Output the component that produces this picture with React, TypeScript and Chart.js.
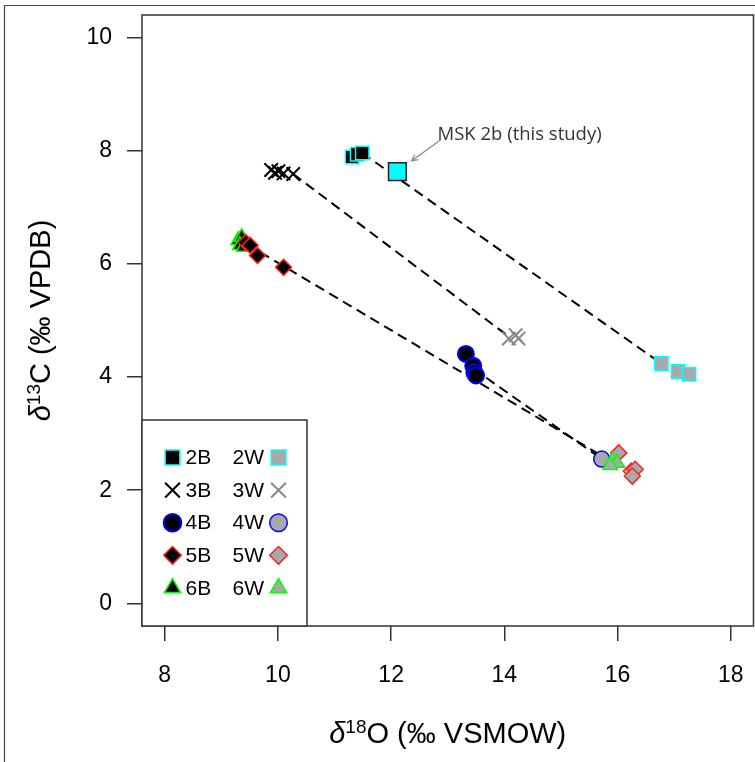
import React, { useEffect, useRef } from 'react';
import { Chart, registerables } from 'chart.js';

Chart.register(...registerables);

// ---- axis ticks ----
const X_TICKS = [8, 10, 12, 14, 16, 18];
const Y_TICKS = [0, 2, 4, 6, 8, 10];
const X_MIN = 7.6, X_MAX = 18.4, Y_MIN = -0.4, Y_MAX = 10.4;

// ---- data (δ18O, δ13C) ----
const X_2B = [11.31, 11.40, 11.49];
const Y_2B = [7.89, 7.94, 7.96];
const X_MSK = [12.11];
const Y_MSK = [7.63];
const X_2W = [16.77, 17.07, 17.26];
const Y_2W = [4.24, 4.10, 4.05];

const X_3B = [9.88, 9.95, 10.01, 10.10, 10.27];
const Y_3B = [7.66, 7.61, 7.64, 7.60, 7.59];
const X_3W = [14.08, 14.20, 14.25];
const Y_3W = [4.68, 4.74, 4.68];

const X_4B = [13.32, 13.45, 13.47, 13.50];
const Y_4B = [4.41, 4.20, 4.08, 4.03];
const X_4W = [15.72];
const Y_4W = [2.55];

const X_5B = [9.43, 9.51, 9.64, 10.10];
const Y_5B = [6.38, 6.33, 6.15, 5.94];
const X_5W = [16.02, 16.24, 16.31, 16.26];
const Y_5W = [2.66, 2.34, 2.37, 2.25];

const X_6B = [9.30, 9.36, 9.33, 9.40];
const Y_6B = [6.42, 6.47, 6.33, 6.30];
const X_6W = [15.91, 15.99, 15.87];
const Y_6W = [2.52, 2.48, 2.44];

// ---- dashed mixing lines (endpoints) ----
const LINE_2_X = [11.49, 16.77];
const LINE_2_Y = [7.96, 4.24];
const LINE_3_X = [10.27, 14.10];
const LINE_3_Y = [7.59, 4.70];
const LINE_4_X = [13.45, 15.72];
const LINE_4_Y = [4.15, 2.55];
const LINE_56_X = [9.45, 15.95];
const LINE_56_Y = [6.35, 2.47];

// ---- legend ----
const LEGEND_B = ['2B', '3B', '4B', '5B', '6B'];
const LEGEND_W = ['2W', '3W', '4W', '5W', '6W'];

// ---- annotation ----
const NOTE_TEXT = 'MSK 2b (this study)';
const NOTE_POS = [12.82, 8.29];
const ARROW_FROM = [12.87, 8.19];
const ARROW_TO = [12.36, 7.82];

const pts = (xs: number[], ys: number[]) => xs.map((x, i) => ({ x, y: ys[i] }));

const GREY = '#a9a9a9';
const CYAN = '#00ffff';
const BLUE = '#0000ff';
const RED = '#ff2020';
const GREEN = '#00ff00';

type MStyle = { shape: string; r: number; fill: string; stroke: string; lw: number };
const STYLE_B: MStyle[] = [
  { shape: 'rect', r: 9.5, fill: '#000', stroke: CYAN, lw: 1.5 },
  { shape: 'crossRot', r: 9.5, fill: '#000', stroke: '#000', lw: 2 },
  { shape: 'circle', r: 8, fill: '#000', stroke: BLUE, lw: 2 },
  { shape: 'rectRot', r: 8, fill: '#000', stroke: RED, lw: 1.5 },
  { shape: 'triangle', r: 8.5, fill: '#000', stroke: GREEN, lw: 1.5 },
];
const STYLE_W: MStyle[] = [
  { shape: 'rect', r: 9.5, fill: GREY, stroke: CYAN, lw: 1.5 },
  { shape: 'crossRot', r: 9.5, fill: GREY, stroke: '#888', lw: 2 },
  { shape: 'circle', r: 8, fill: GREY, stroke: BLUE, lw: 1.5 },
  { shape: 'rectRot', r: 8, fill: GREY, stroke: RED, lw: 1.5 },
  { shape: 'triangle', r: 8.5, fill: GREY, stroke: GREEN, lw: 1.5 },
];

function drawMarker(ctx: CanvasRenderingContext2D, s: MStyle, x: number, y: number, k = 1) {
  ctx.save();
  ctx.fillStyle = s.fill;
  ctx.strokeStyle = s.stroke;
  ctx.lineWidth = s.lw;
  ctx.beginPath();
  const r = s.r * k;
  if (s.shape === 'rect') {
    const h = r * Math.SQRT1_2;
    ctx.rect(x - h, y - h, 2 * h, 2 * h);
    ctx.fill();
    ctx.stroke();
  } else if (s.shape === 'circle') {
    ctx.arc(x, y, r, 0, Math.PI * 2);
    ctx.fill();
    ctx.stroke();
  } else if (s.shape === 'rectRot') {
    ctx.moveTo(x, y - r);
    ctx.lineTo(x + r, y);
    ctx.lineTo(x, y + r);
    ctx.lineTo(x - r, y);
    ctx.closePath();
    ctx.fill();
    ctx.stroke();
  } else if (s.shape === 'triangle') {
    const w = r * Math.sin(Math.PI / 3);
    ctx.moveTo(x, y - r);
    ctx.lineTo(x + w, y + r / 2);
    ctx.lineTo(x - w, y + r / 2);
    ctx.closePath();
    ctx.fill();
    ctx.stroke();
  } else if (s.shape === 'crossRot') {
    const d = r * Math.SQRT1_2;
    ctx.moveTo(x - d, y - d);
    ctx.lineTo(x + d, y + d);
    ctx.moveTo(x + d, y - d);
    ctx.lineTo(x - d, y + d);
    ctx.stroke();
  }
  ctx.restore();
}

type Part = { t: string; sup?: boolean; italic?: boolean };
function drawRich(ctx: CanvasRenderingContext2D, parts: Part[], cx: number, cy: number, size: number, family: string) {
  const fontFor = (p: Part) =>
    `${p.italic ? 'italic ' : ''}${p.sup ? Math.round(size * 0.66) : size}px ${family}`;
  let total = 0;
  const widths = parts.map((p) => {
    ctx.font = fontFor(p);
    const w = ctx.measureText(p.t).width;
    total += w;
    return w;
  });
  let x = cx - total / 2;
  ctx.textBaseline = 'alphabetic';
  ctx.textAlign = 'left';
  parts.forEach((p, i) => {
    ctx.font = fontFor(p);
    const base = cy + size * 0.36;
    ctx.fillText(p.t, x, p.sup ? base - size * 0.36 : base);
    x += widths[i];
  });
}

const decorPlugin = {
  id: 'decor',
  afterDraw(chart: any) {
    const ctx: CanvasRenderingContext2D = chart.ctx;
    const { left, right, top, bottom } = chart.chartArea;
    const xs = chart.scales.x;
    const ys = chart.scales.y;
    ctx.save();
    // outer frame
    ctx.strokeStyle = '#444';
    ctx.lineWidth = 1.2;
    ctx.beginPath();
    ctx.moveTo(4.5, 770);
    ctx.lineTo(4.5, 5.5);
    ctx.lineTo(760, 5.5);
    ctx.stroke();
    // plot box
    ctx.strokeStyle = '#333';
    ctx.lineWidth = 1.5;
    ctx.strokeRect(left, top, right - left, bottom - top);

    // legend
    const lx0 = left, ly0 = 420, lx1 = 307, ly1 = bottom;
    ctx.fillStyle = '#fff';
    ctx.fillRect(lx0, ly0, lx1 - lx0, ly1 - ly0);
    ctx.strokeRect(lx0, ly0, lx1 - lx0, ly1 - ly0);
    ctx.font = '21px "Liberation Sans", Arial, sans-serif';
    ctx.textBaseline = 'middle';
    ctx.textAlign = 'left';
    LEGEND_B.forEach((lab, i) => {
      const yy = 457.5 + i * 32.6;
      drawMarker(ctx, STYLE_B[i], 172.5, yy, 1.1);
      ctx.fillStyle = '#000';
      ctx.fillText(lab, 185.5, yy + 1);
      ctx.fillText(LEGEND_W[i], 232.5, yy + 1);
      drawMarker(ctx, STYLE_W[i], 278.5, yy, 1.1);
    });

    // annotation
    ctx.fillStyle = '#333';
    ctx.font = '18.5px "Open Sans", "Noto Sans", sans-serif';
    ctx.textBaseline = 'middle';
    ctx.textAlign = 'left';
    ctx.fillText(NOTE_TEXT, xs.getPixelForValue(NOTE_POS[0]), ys.getPixelForValue(NOTE_POS[1]));
    const ax0 = xs.getPixelForValue(ARROW_FROM[0]), ay0 = ys.getPixelForValue(ARROW_FROM[1]);
    const ax1 = xs.getPixelForValue(ARROW_TO[0]), ay1 = ys.getPixelForValue(ARROW_TO[1]);
    ctx.strokeStyle = '#8a8a8a';
    ctx.lineWidth = 1.3;
    ctx.beginPath();
    ctx.moveTo(ax0, ay0);
    ctx.lineTo(ax1, ay1);
    const ang = Math.atan2(ay1 - ay0, ax1 - ax0);
    const hl = 7;
    ctx.moveTo(ax1 - hl * Math.cos(ang - 0.45), ay1 - hl * Math.sin(ang - 0.45));
    ctx.lineTo(ax1, ay1);
    ctx.lineTo(ax1 - hl * Math.cos(ang + 0.45), ay1 - hl * Math.sin(ang + 0.45));
    ctx.stroke();

    // axis titles
    ctx.fillStyle = '#000';
    const fam = '"Liberation Sans", Arial, sans-serif';
    drawRich(ctx, [{ t: 'δ', italic: true }, { t: '18', sup: true }, { t: 'O (‰ VSMOW)' }], (left + right) / 2, 733, 29, fam);
    ctx.save();
    ctx.translate(40, (top + bottom) / 2);
    ctx.rotate(-Math.PI / 2);
    drawRich(ctx, [{ t: 'δ', italic: true }, { t: '13', sup: true }, { t: 'C (‰ VPDB)' }], 0, 0, 29, fam);
    ctx.restore();
    ctx.restore();
  },
};

const pointDs = (label: string, data: any[], s: MStyle) => ({
  label,
  data,
  showLine: false,
  pointStyle: s.shape,
  pointRadius: s.r,
  pointBackgroundColor: s.fill,
  pointBorderColor: s.stroke,
  pointBorderWidth: s.lw,
  order: 1,
});

const lineDs = (label: string, data: any[]) => ({
  label,
  data,
  showLine: true,
  borderColor: '#000',
  borderWidth: 2,
  borderDash: [10, 6],
  pointRadius: 0,
  fill: false,
  order: 5,
});

export default function App() {
  const ref = useRef<HTMLCanvasElement>(null);
  useEffect(() => {
    const tickFont = { family: '"Liberation Sans", Arial, sans-serif', size: 23 };
    const grid = { drawOnChartArea: false, drawTicks: true, tickLength: 15, color: '#333', lineWidth: 1.5 };
    const chart = new Chart(ref.current!, {
      type: 'scatter',
      data: {
        datasets: [
          pointDs('MSK', pts(X_MSK, Y_MSK), { shape: 'rect', r: 12.5, fill: CYAN, stroke: '#222', lw: 1.5 }),
          pointDs('2B', pts(X_2B, Y_2B), STYLE_B[0]),
          pointDs('2W', pts(X_2W, Y_2W), STYLE_W[0]),
          pointDs('3B', pts(X_3B, Y_3B), STYLE_B[1]),
          pointDs('3W', pts(X_3W, Y_3W), STYLE_W[1]),
          pointDs('6W', pts(X_6W, Y_6W), STYLE_W[4]),
          pointDs('4W', pts(X_4W, Y_4W), STYLE_W[2]),
          pointDs('5W', pts(X_5W, Y_5W), STYLE_W[3]),
          pointDs('4B', pts(X_4B, Y_4B), STYLE_B[2]),
          pointDs('5B', pts(X_5B, Y_5B), STYLE_B[3]),
          pointDs('6B', pts(X_6B, Y_6B), STYLE_B[4]),
          lineDs('L2', pts(LINE_2_X, LINE_2_Y)),
          lineDs('L3', pts(LINE_3_X, LINE_3_Y)),
          lineDs('L4', pts(LINE_4_X, LINE_4_Y)),
          lineDs('L56', pts(LINE_56_X, LINE_56_Y)),
        ] as any,
      },
      options: {
        responsive: false,
        animation: false,
        layout: { autoPadding: false, padding: { top: 15, right: 1.5, left: 0, bottom: 0 } },
        plugins: { legend: { display: false }, tooltip: { enabled: false } },
        scales: {
          x: {
            type: 'linear',
            min: X_MIN,
            max: X_MAX,
            afterBuildTicks: (s: any) => { s.ticks = X_TICKS.map((v) => ({ value: v })); },
            afterFit: (s: any) => { s.height = 136; s.paddingLeft = 0; s.paddingRight = 0; s.paddingTop = 0; s.paddingBottom = 0; },
            grid,
            border: { display: false },
            ticks: { font: tickFont, color: '#000', padding: 21, maxRotation: 0, autoSkip: false },
          },
          y: {
            type: 'linear',
            min: Y_MIN,
            max: Y_MAX,
            afterBuildTicks: (s: any) => { s.ticks = Y_TICKS.map((v) => ({ value: v })); },
            afterFit: (s: any) => { s.width = 142; s.paddingLeft = 0; s.paddingRight = 0; s.paddingTop = 0; s.paddingBottom = 0; },
            grid,
            border: { display: false },
            ticks: { font: tickFont, color: '#000', padding: 15, autoSkip: false },
          },
        },
      } as any,
      plugins: [decorPlugin],
    });
    return () => chart.destroy();
  }, []);
  return (
    <div style={{ position: 'absolute', left: 0, top: 0, width: 755, height: 762, background: '#fff' }}>
      <canvas ref={ref} width={755} height={762} style={{ display: 'block' }} />
    </div>
  );
}
